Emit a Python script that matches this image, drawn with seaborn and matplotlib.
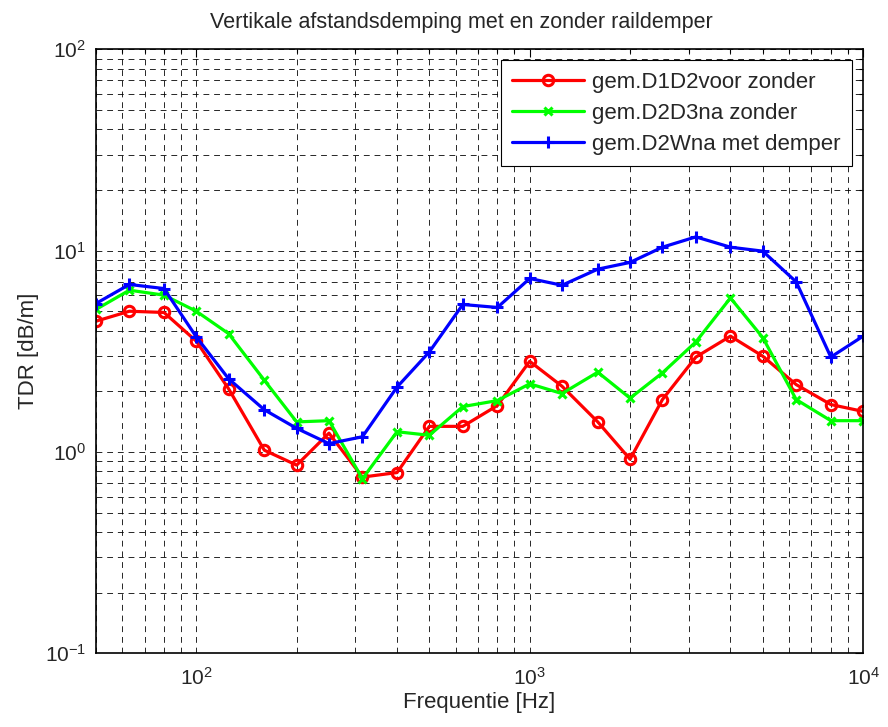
import numpy as np
import pandas as pd
import matplotlib
matplotlib.use("Agg")
import matplotlib.pyplot as plt
import seaborn as sns
from matplotlib.ticker import LogLocator, NullFormatter

# third-octave band centre frequencies
freq = [50, 63, 80, 100, 125, 160, 200, 250, 315, 400, 500, 630, 800,
        1000, 1250, 1600, 2000, 2500, 3150, 4000, 5000, 6300, 8000, 10000]

d1d2_voor = [4.46, 5.0, 4.93, 3.55, 2.06, 1.02, 0.86, 1.24, 0.75, 0.79, 1.34, 1.34, 1.70,
             2.82, 2.12, 1.41, 0.92, 1.82, 2.96, 3.76, 2.99, 2.16, 1.72, 1.59]
d2d3_na = [5.10, 6.36, 6.01, 5.0, 3.87, 2.27, 1.41, 1.43, 0.736, 1.26, 1.21, 1.68, 1.80,
           2.18, 1.95, 2.49, 1.85, 2.47, 3.52, 5.82, 3.70, 1.82, 1.43, 1.43]
d2w_na = [5.46, 6.79, 6.48, 3.73, 2.31, 1.62, 1.31, 1.10, 1.19, 2.10, 3.14, 5.40, 5.22,
          7.27, 6.73, 8.09, 8.74, 10.4, 11.7, 10.4, 9.94, 6.99, 2.96, 3.76]

labels = ['gem.D1D2voor zonder', 'gem.D2D3na zonder', 'gem.D2Wna met demper']

df = pd.DataFrame({'freq': freq, labels[0]: d1d2_voor, labels[1]: d2d3_na, labels[2]: d2w_na})

sns.set_style("white")
plt.rcParams['font.family'] = ['Liberation Sans', 'DejaVu Sans']
plt.rcParams['mathtext.default'] = 'regular'
plt.rcParams['axes.unicode_minus'] = False

fig = plt.figure(figsize=(8.88, 7.27), dpi=100)
ax = fig.add_axes([0.108, 0.1014, 0.864, 0.8308])

styles = [('#ff0000', 'o', 7.5), ('#00ff00', 'x', 6), ('#0000ff', '+', 8.5)]
for lab, (col, mk, ms) in zip(labels, styles):
    sns.lineplot(data=df, x='freq', y=lab, ax=ax, color=col, marker=mk,
                 markersize=ms, mfc='none', mec=col, mew=2.2,
                 linewidth=2.3, label=lab)

ax.set_xscale('log')
ax.set_yscale('log')
ax.set_xlim(50, 10000)
ax.set_ylim(0.1, 100)

ax.yaxis.set_major_locator(LogLocator(base=10, numticks=10))
ax.yaxis.set_minor_locator(LogLocator(base=10, subs=np.arange(2, 10), numticks=10))
ax.yaxis.set_minor_formatter(NullFormatter())
ax.xaxis.set_minor_formatter(NullFormatter())

ax.grid(True, which='both', color='black', linestyle=(0, (6, 5)), linewidth=0.7, alpha=0.85)
ax.tick_params(which='both', direction='in', top=True, right=True, labelsize=15, color='black')
ax.tick_params(which='major', length=6, width=0.8, pad=7)
ax.tick_params(axis='x', which='major', pad=10)
ax.tick_params(which='minor', length=3, width=0.8)
for s in ax.spines.values():
    s.set_color('black')
    s.set_linewidth(1.2)

ax.set_title('Vertikale afstandsdemping met en zonder raildemper', fontsize=15.5, pad=15, x=0.476)
ax.set_xlabel('Frequentie [Hz]', fontsize=16, labelpad=2)
ax.set_ylabel('TDR [dB/m]', fontsize=16, labelpad=4)

leg = ax.legend(loc='upper right', fontsize=16, frameon=True, fancybox=False,
                edgecolor='black', framealpha=1, borderaxespad=0.5, handlelength=3.2,
                labelspacing=0.45, borderpad=0.5, handletextpad=0.4)
leg.get_frame().set_linewidth(0.8)

fig.savefig('out.png', dpi=100)
